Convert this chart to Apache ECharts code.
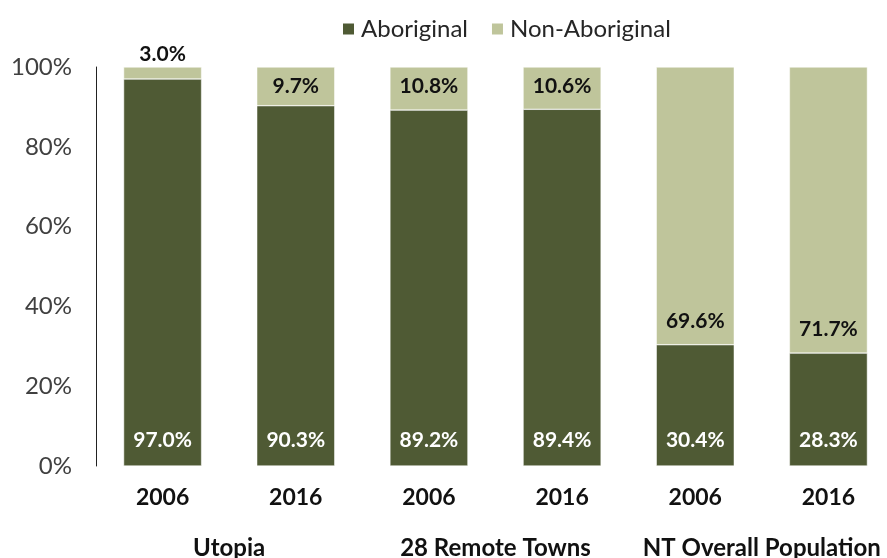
<!DOCTYPE html>
<html lang="en">
<head>
  <meta charset="UTF-8">
  <title>Aboriginal population share</title>
  <style>body{margin:0;}</style>
</head>
<body>
  <div id="main" style="width: 887px;height:558px;"></div>

  <script src="https://cdn.jsdelivr.net/npm/echarts@6/dist/echarts.min.js"></script>
  <script>
    const myChart = echarts.init(document.getElementById('main'));

    const years = ['2006', '2016', '2006', '2016', '2006', '2016'];
    const groups = ['Utopia', '28 Remote Towns', 'NT Overall Population'];
    const aboriginal = [97.0, 90.3, 89.2, 89.4, 30.4, 28.3];
    const nonAboriginal = [3.0, 9.7, 10.8, 10.6, 69.6, 71.7];

    const dark = '#4F5A34';
    const light = '#BFC59B';
    const font = 'Lato';

    // label spot for the light segment depends on its size
    const nonData = nonAboriginal.map(function (v, i) {
      let item = { value: v };
      if (i === 0) item.label = { position: 'top', distance: 2 };
      if (i >= 4) item.label = { position: 'insideBottom', distance: 13 };
      return item;
    });

    const options = {
      textStyle: { fontFamily: font },
      legend: {
        data: ['Aboriginal', 'Non-Aboriginal'],
        top: 12,
        left: 336,
        icon: 'rect',
        itemWidth: 13,
        itemHeight: 13,
        itemGap: 22,
        textStyle: { fontSize: 24, color: '#262626', fontFamily: font, padding: [0, 0, 0, 1] }
      },
      grid: {
        left: 96,
        right: -8,
        top: 67,
        bottom: 92,
        outerBoundsMode: 'none',
        containLabel: false
      },
      xAxis: [
        {
          type: 'category',
          data: years,
          axisLine: { show: false },
          axisTick: { show: false },
          axisLabel: { interval: 0, margin: 20, fontSize: 23, fontWeight: 'bold', color: '#111', fontFamily: font }
        },
        {
          type: 'category',
          data: groups,
          position: 'bottom',
          offset: 70,
          axisLine: { show: false },
          axisTick: { show: false },
          axisLabel: { interval: 0, hideOverlap: false, margin: 0, fontSize: 24, fontWeight: 'bold', color: '#111', fontFamily: font }
        }
      ],
      yAxis: {
        type: 'value',
        min: 0,
        max: 100,
        interval: 20,
        splitLine: { show: false },
        axisTick: { show: false },
        axisLine: { show: true, lineStyle: { color: '#222', width: 1 } },
        axisLabel: {
          margin: 24,
          fontSize: 24,
          color: '#404040',
          fontFamily: font,
          formatter: '{value}%'
        }
      },
      series: [
        {
          name: 'Aboriginal',
          type: 'bar',
          stack: 'total',
          barWidth: 78,
          data: aboriginal,
          itemStyle: { color: dark, borderColor: '#fff', borderWidth: 0.5 },
          label: {
            show: true,
            position: 'insideBottom',
            distance: 15,
            color: '#fff',
            fontSize: 21,
            fontWeight: 'bold',
            fontFamily: font,
            formatter: function (p) { return p.value.toFixed(1) + '%'; }
          }
        },
        {
          name: 'Non-Aboriginal',
          type: 'bar',
          stack: 'total',
          barWidth: 78,
          data: nonData,
          itemStyle: { color: light, borderColor: '#fff', borderWidth: 0.5 },
          label: {
            show: true,
            position: 'insideTop',
            distance: 9,
            color: '#111',
            fontSize: 21,
            fontWeight: 'bold',
            fontFamily: font,
            formatter: function (p) { return p.value.toFixed(1) + '%'; }
          }
        }
      ]
    };

    myChart.setOption(options);
  </script>
</body>
</html>
